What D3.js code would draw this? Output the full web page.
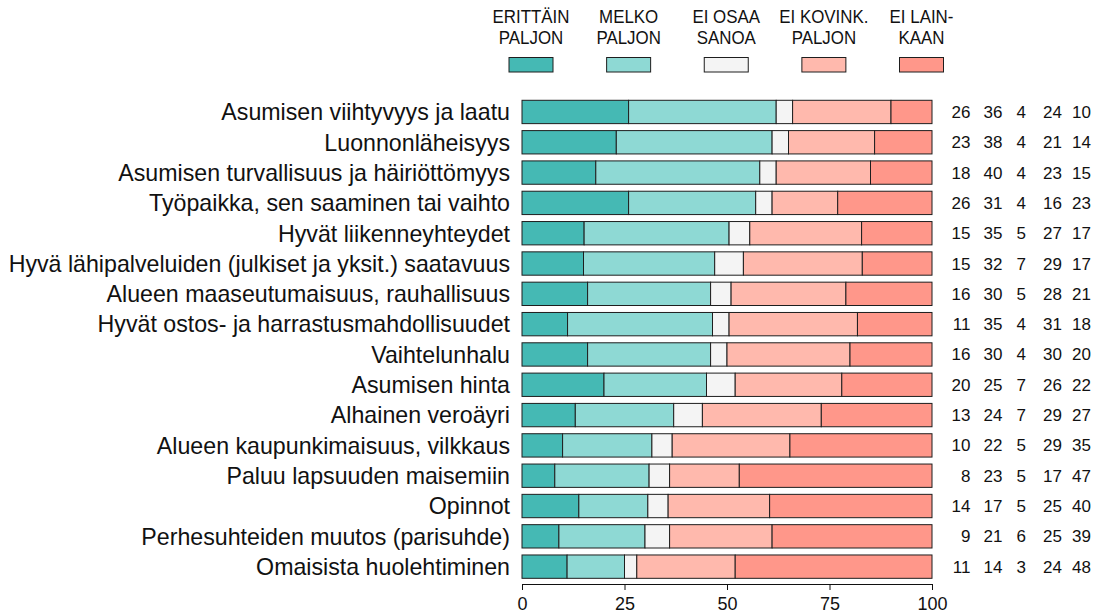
<!DOCTYPE html>
<html>
<head>
<meta charset="utf-8">
<script src="https://cdn.jsdelivr.net/npm/d3@7"></script>
<style>
  body { margin: 0; background: #fff; }
  svg { display: block; font-family: "Liberation Sans", Arial, sans-serif; }
</style>
</head>
<body>
<div id="graf"></div>
<script>
// categories (top to bottom)
const kategoriat = [
  "Asumisen viihtyvyys ja laatu",
  "Luonnonläheisyys",
  "Asumisen turvallisuus ja häiriöttömyys",
  "Työpaikka, sen saaminen tai vaihto",
  "Hyvät liikenneyhteydet",
  "Hyvä lähipalveluiden (julkiset ja yksit.) saatavuus",
  "Alueen maaseutumaisuus, rauhallisuus",
  "Hyvät ostos- ja harrastusmahdollisuudet",
  "Vaihtelunhalu",
  "Asumisen hinta",
  "Alhainen veroäyri",
  "Alueen kaupunkimaisuus, vilkkaus",
  "Paluu lapsuuden maisemiin",
  "Opinnot",
  "Perhesuhteiden muutos (parisuhde)",
  "Omaisista huolehtiminen"
]

// series values (%)
const erittainPaljon = [26, 23, 18, 26, 15, 15, 16, 11, 16, 20, 13, 10, 8, 14, 9, 11]
const melkoPaljon    = [36, 38, 40, 31, 35, 32, 30, 35, 30, 25, 24, 22, 23, 17, 21, 14]
const eiOsaaSanoa    = [4, 4, 4, 4, 5, 7, 5, 4, 4, 7, 7, 5, 5, 5, 6, 3]
const eiKovinPaljon  = [24, 21, 23, 16, 27, 29, 28, 31, 30, 26, 29, 29, 17, 25, 25, 24]
const eiLainkaan     = [10, 14, 15, 23, 17, 17, 21, 18, 20, 22, 27, 35, 47, 40, 39, 48]

// legend labels (two lines each)
const selitteet = [
  ["ERITTÄIN", "PALJON"],
  ["MELKO", "PALJON"],
  ["EI OSAA", "SANOA"],
  ["EI KOVINK.", "PALJON"],
  ["EI LAIN-", "KAAN"]
]

const xTicks = [0, 25, 50, 75, 100]

const sarjat = [erittainPaljon, melkoPaljon, eiOsaaSanoa, eiKovinPaljon, eiLainkaan]
const varit = ["#45b9b4", "#8ed9d4", "#f4f4f4", "#ffb9ad", "#ff978a"]

const W = 1102, H = 616

const svg = d3.select("#graf").append("svg")
  .attr("width", W)
  .attr("height", H)

// scales
const x = d3.scaleLinear().domain([0, 100]).range([522, 932])
const y = d3.scaleBand()
  .domain(kategoriat)
  .range([96.8, 581.8])
  .paddingInner(0.23)
  .paddingOuter(0.115)

const color = d3.scaleOrdinal().domain(d3.range(5)).range(varit)

// rows -> stacked segments, normalised to 100 so every bar ends at 100
const rivit = kategoriat.map((k, i) => {
  const arvot = sarjat.map(s => s[i])
  const summa = d3.sum(arvot)
  let kum = 0
  const osat = arvot.map((v, j) => {
    const a = kum
    kum += v * 100 / summa
    return { j, x0: a, x1: kum }
  })
  return { k, arvot, osat }
})

// bars
const rivi = svg.append("g").selectAll("g")
  .data(rivit)
  .join("g")

rivi.selectAll("rect")
  .data(d => d.osat.map(o => ({ ...o, k: d.k })))
  .join("rect")
  .attr("x", d => x(d.x0))
  .attr("y", d => y(d.k))
  .attr("width", d => x(d.x1) - x(d.x0))
  .attr("height", y.bandwidth())
  .attr("fill", d => color(d.j))
  .attr("stroke", "#1e1e1e")
  .attr("stroke-width", 1)

// category labels
svg.append("g").selectAll("text")
  .data(rivit)
  .join("text")
  .attr("x", 510)
  .attr("y", d => y(d.k) + y.bandwidth() / 2 + 8.3)
  .attr("text-anchor", "end")
  .attr("font-size", "23.2px")
  .attr("fill", "#111")
  .text(d => d.k)

// value columns on the right
const sarakkeet = [970.5, 1002.5, 1026, 1062, 1091]
rivit.forEach(d => {
  svg.append("g").selectAll("text")
    .data(d.arvot)
    .join("text")
    .attr("x", (v, j) => sarakkeet[j])
    .attr("y", y(d.k) + y.bandwidth() / 2 + 6)
    .attr("text-anchor", "end")
    .attr("font-size", "17px")
    .attr("fill", "#111")
    .text(v => v)
})

// x axis
const xAxis = d3.axisBottom(x)
  .tickValues(xTicks)
  .tickSize(6)
  .tickSizeOuter(6)
  .tickPadding(7)

const ax = svg.append("g")
  .attr("transform", "translate(0,584)")
  .call(xAxis)
ax.selectAll("text").attr("font-size", "18px").attr("fill", "#111").attr("font-family", "Liberation Sans, Arial, sans-serif")
ax.selectAll("path, line").attr("stroke", "#111")

// legend
const lx = d3.scalePoint().domain(d3.range(5)).range([531, 921.5])

const leg = svg.append("g").selectAll("g")
  .data(selitteet)
  .join("g")
  .attr("transform", (d, i) => `translate(${lx(i)},0)`)

leg.append("rect")
  .attr("x", -22)
  .attr("y", 57.5)
  .attr("width", 44)
  .attr("height", 14.5)
  .attr("fill", (d, i) => color(i))
  .attr("stroke", "#1e1e1e")

leg.each(function (d) {
  const g = d3.select(this)
  d.forEach((rivi, r) => {
    g.append("text")
      .attr("transform", `translate(0,${23 + r * 21}) scale(0.89,1)`)
      .attr("text-anchor", "middle")
      .attr("font-size", "19px")
      .attr("fill", "#111")
      .text(rivi)
  })
})
</script>
</body>
</html>
